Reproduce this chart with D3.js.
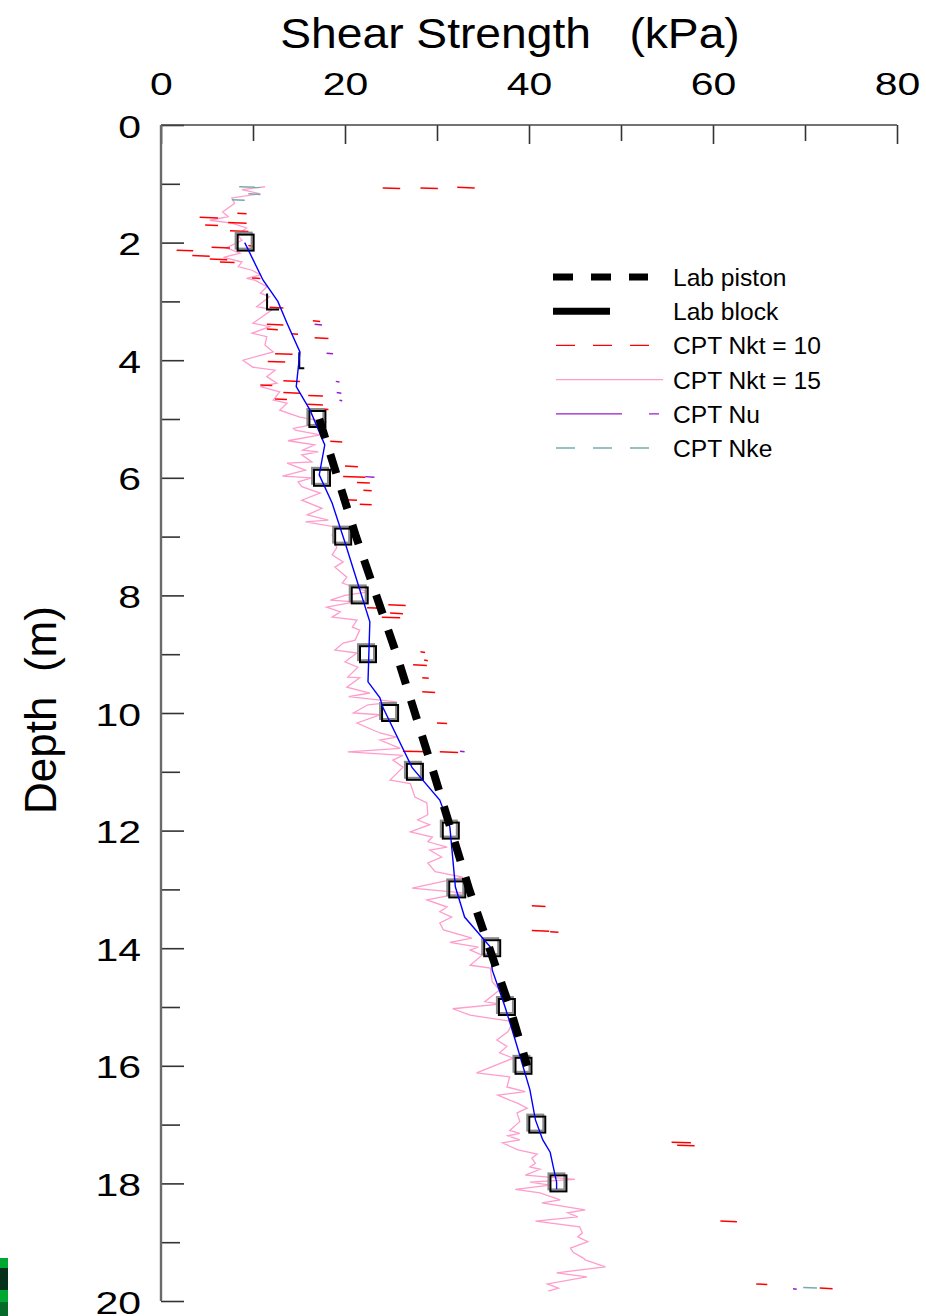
<!DOCTYPE html>
<html>
<head>
<meta charset="utf-8">
<script src="https://cdn.jsdelivr.net/npm/d3@7/dist/d3.min.js"></script>
<style>
  html, body { margin: 0; padding: 0; background: #fff; }
  svg { display: block; }
  text { font-family: "Liberation Sans", Arial, sans-serif; fill: #000; }
</style>
</head>
<body>
<svg id="chart" width="926" height="1316"></svg>
<script>
// ---------------- DATA ----------------
const xMajorTicks = [0, 20, 40, 60, 80];
const xMinorTicks = [10, 30, 50, 70];
const yMajorTicks = [0, 2, 4, 6, 8, 10, 12, 14, 16, 18, 20];
const yMinorTicks = [1, 3, 5, 7, 9, 11, 13, 15, 17, 19];

const legendLabels = ["Lab piston", "Lab block", "CPT Nkt = 10", "CPT Nkt = 15", "CPT Nu", "CPT Nke"];

// Lab piston (thick dashed)
const pistonDepth = [5.0, 7.0, 9.0, 11.0, 13.0, 14.0, 15.0, 16.0];
const pistonValue = [17.2, 21.2, 25.6, 29.6, 33.5, 35.7, 37.9, 39.8];

// Lab squares (open markers) and blue connecting line
const squareDepth = [2, 5, 6, 7, 8, 9, 10, 11, 12, 13, 14, 15, 16, 17, 18];
const squareValue = [9.2, 17.0, 17.5, 19.8, 21.6, 22.5, 24.9, 27.6, 31.5, 32.2, 36.0, 37.6, 39.4, 40.9, 43.2];
const partialSquareDepth = [3, 4];
const partialSquareValue = [12.4, 15.9];

const blueDepth = [2.0, 2.64, 3.0, 3.37, 3.86, 4.45, 4.85, 5.44, 5.95, 6.43, 7.1, 8.45, 9.47, 9.74, 9.9, 10.93, 11.48, 11.94, 12.96, 13.47, 13.98, 14.37, 15.0, 15.56, 16.41, 16.92, 17.26, 17.47, 17.98, 18.1];
const blueValue = [9.1, 11.1, 12.7, 13.7, 15.1, 14.7, 16.2, 17.8, 17.2, 18.6, 20.0, 22.7, 22.5, 23.8, 24.1, 27.3, 30.3, 31.4, 32.0, 33.0, 35.8, 36.0, 37.4, 38.5, 40.1, 40.7, 41.5, 42.3, 43.0, 43.0];

// CPT Nkt = 15 (pink, noisy profile)
const nkt15Depth = [1.05, 1.10, 1.17, 1.24, 1.33, 1.48, 1.56, 1.62, 1.67, 1.75, 1.87, 1.96, 2.09, 2.18, 2.25, 2.33, 2.41, 2.47, 2.55, 2.61, 2.64, 2.75, 2.86, 2.92, 3.09, 3.14, 3.26, 3.37, 3.43, 3.54, 3.60, 3.74, 3.86, 4.00, 4.12, 4.17, 4.28, 4.39, 4.45, 4.54, 4.68, 4.73, 4.85, 4.97, 5.05, 5.16, 5.19, 5.27, 5.37, 5.44, 5.53, 5.56, 5.61, 5.73, 5.75, 5.87, 5.97, 6.00, 6.07, 6.15, 6.26, 6.38, 6.52, 6.63, 6.72, 6.75, 6.84, 6.97, 7.19, 7.31, 7.43, 7.52, 7.69, 7.79, 7.94, 8.00, 8.08, 8.11, 8.20, 8.28, 8.37, 8.42, 8.54, 8.59, 8.76, 8.81, 8.93, 8.98, 9.13, 9.22, 9.39, 9.40, 9.56, 9.66, 9.72, 9.81, 9.86, 10.00, 10.03, 10.17, 10.34, 10.41, 10.46, 10.60, 10.66, 10.72, 10.80, 10.92, 11.14, 11.20, 11.43, 11.53, 11.73, 11.82, 11.90, 12.02, 12.11, 12.19, 12.28, 12.33, 12.45, 12.55, 12.70, 12.79, 12.98, 13.06, 13.18, 13.30, 13.38, 13.47, 13.57, 13.69, 13.83, 13.90, 13.98, 14.03, 14.12, 14.29, 14.34, 14.57, 14.71, 14.91, 14.95, 15.03, 15.14, 15.25, 15.42, 15.56, 15.67, 15.78, 15.87, 16.12, 16.19, 16.36, 16.44, 16.50, 16.64, 16.72, 16.80, 16.95, 17.10, 17.15, 17.19, 17.26, 17.31, 17.43, 17.50, 17.57, 17.66, 17.72, 17.76, 17.86, 17.93, 17.98, 18.03, 18.10, 18.16, 18.28, 18.33, 18.45, 18.50, 18.57, 18.64, 18.74, 18.84, 18.91, 18.99, 19.10, 19.17, 19.27, 19.30, 19.42, 19.52, 19.59, 19.71, 19.78, 19.83];
const nkt15Value = [11.3, 8.8, 10.8, 7.7, 8.0, 6.7, 7.3, 5.3, 7.7, 9.3, 8.3, 8.8, 7.1, 8.6, 6.8, 8.8, 8.4, 9.9, 10.8, 9.3, 10.2, 11.5, 10.8, 11.8, 10.4, 12.1, 11.0, 10.0, 11.8, 9.9, 11.5, 11.3, 12.2, 8.9, 10.0, 12.4, 11.5, 12.6, 10.8, 12.9, 12.2, 13.7, 12.9, 15.1, 18.0, 14.4, 14.6, 17.3, 13.8, 16.7, 15.4, 17.1, 15.3, 16.4, 13.7, 15.7, 13.2, 16.4, 14.9, 15.3, 17.3, 15.3, 17.5, 15.9, 18.2, 15.7, 19.1, 18.6, 19.1, 18.6, 19.8, 18.9, 20.2, 19.7, 22.5, 20.0, 18.4, 21.1, 18.0, 19.5, 18.6, 21.3, 20.8, 21.6, 21.1, 19.8, 18.9, 21.3, 20.0, 21.4, 20.3, 21.6, 20.2, 22.7, 20.4, 25.6, 22.5, 20.9, 23.8, 21.3, 23.8, 25.6, 23.8, 26.0, 20.3, 26.3, 25.2, 26.3, 24.9, 27.1, 27.6, 28.9, 29.0, 27.9, 29.2, 27.1, 29.5, 29.0, 31.1, 29.2, 30.5, 29.0, 29.8, 32.8, 27.3, 32.8, 28.9, 31.1, 30.3, 31.6, 30.3, 30.7, 33.8, 31.4, 34.5, 33.6, 34.9, 33.6, 35.8, 36.0, 36.8, 35.2, 36.8, 31.7, 33.6, 38.3, 37.7, 36.5, 37.6, 36.8, 38.3, 34.3, 37.9, 37.6, 39.6, 36.6, 38.8, 39.8, 38.7, 39.0, 37.9, 39.0, 37.7, 39.0, 37.1, 38.8, 40.9, 40.3, 40.7, 40.1, 41.2, 39.6, 45.0, 40.1, 42.3, 38.5, 41.2, 43.4, 41.4, 46.1, 44.2, 45.3, 40.7, 45.5, 45.8, 45.3, 46.4, 44.5, 44.8, 45.9, 46.1, 48.3, 43.0, 46.3, 42.0, 43.2, 42.1];

// CPT Nkt = 10 (red dashed, visible fragments): depth, value from, value to
const nkt10SegDepth = [1.07, 1.07, 1.06, 1.50, 1.57, 1.66, 1.70, 1.80, 2.05, 2.08, 2.13, 2.22, 2.28, 2.33, 2.60, 3.10, 3.33, 3.39, 3.47, 3.55, 3.62, 3.89, 4.02, 4.35, 4.42, 4.55, 4.60, 4.66, 4.75, 4.83, 5.38, 5.80, 5.98, 6.08, 6.21, 6.37, 6.45, 8.16, 8.21, 8.30, 8.37, 8.96, 9.10, 9.18, 9.40, 9.64, 10.17, 10.65, 10.66, 13.28, 13.70, 13.72, 17.30, 17.35, 18.64, 19.71, 19.78];
const nkt10SegFrom  = [24.1, 28.2, 32.2, 8.3, 4.2, 7.3, 4.8, 7.5, 9.5, 5.5, 1.7, 3.4, 5.3, 6.4, 9.9, 11.8, 16.5, 11.5, 11.5, 14.2, 16.7, 12.4, 11.6, 13.3, 10.8, 13.3, 16.0, 12.4, 15.9, 17.6, 18.4, 20.0, 19.8, 21.3, 22.0, 19.5, 21.6, 24.7, 22.4, 24.9, 24.0, 28.2, 28.6, 27.4, 28.4, 28.4, 30.0, 26.3, 30.3, 40.3, 40.3, 42.3, 55.5, 56.1, 60.8, 64.7, 71.6];
const nkt10SegTo    = [26.0, 30.1, 34.1, 9.3, 6.2, 9.3, 6.2, 9.5, 10.0, 7.5, 3.5, 5.3, 7.2, 8.0, 10.8, 13.3, 17.3, 13.3, 12.7, 14.9, 18.2, 14.3, 13.5, 15.1, 12.1, 15.1, 17.6, 13.7, 17.6, 18.2, 19.7, 21.4, 22.2, 22.7, 22.9, 21.3, 22.9, 26.6, 24.2, 26.3, 26.0, 28.7, 29.0, 28.9, 29.1, 29.8, 31.1, 29.2, 32.3, 41.8, 42.2, 43.2, 57.6, 58.0, 62.6, 65.9, 73.0];

// CPT Nu (purple fragments)
const nuSegDepth = [3.39, 3.88, 4.36, 4.55, 4.68, 5.98, 10.65, 19.79];
const nuSegFrom  = [16.7, 18.0, 19.0, 19.1, 19.4, 22.2, 32.5, 68.7];
const nuSegTo    = [17.5, 18.7, 19.4, 19.6, 19.7, 23.2, 33.0, 69.1];

// CPT Nke (teal fragments)
const nkeSegDepth = [1.05, 1.17, 1.27, 19.77];
const nkeSegFrom  = [8.5, 9.5, 7.7, 69.8];
const nkeSegTo    = [10.8, 10.8, 9.1, 71.3];

// ---------------- DRAW ----------------
const svg = d3.select("#chart");
const x = d3.scaleLinear().domain([0, 80]).range([161, 897]);
const y = d3.scaleLinear().domain([0, 20]).range([125, 1301]);

const COL = { red: "#ff0000", pink: "#ff9ccc", purple: "#9a1ccc", teal: "#78aaaa", blue: "#0000ff" };

// stray artefact at bottom-left edge
const art = svg.append("g");
[[1258, 10, "#00a832"], [1268, 22, "#06301a"], [1290, 12, "#00a832"], [1302, 14, "#066a2a"]].forEach(r => {
  art.append("rect").attr("x", 0).attr("y", r[0]).attr("width", 8).attr("height", r[1]).attr("fill", r[2]);
});

// Title
svg.append("text")
  .attr("transform", "translate(510,48) scale(1.1,1)")
  .attr("text-anchor", "middle")
  .style("font-size", "42px")
  .style("white-space", "pre")
  .text("Shear Strength   (kPa)");

svg.append("text")
  .attr("transform", "translate(56,710) rotate(-90)")
  .attr("text-anchor", "middle")
  .style("font-size", "44px")
  .style("white-space", "pre")
  .text("Depth  (m)");

// Axes
const axTop = svg.append("g").attr("transform", "translate(0,125)")
  .call(d3.axisTop(x).tickValues(xMajorTicks).tickSize(-19).tickPadding(30).tickFormat(d3.format("d")));
const axTopMinor = svg.append("g").attr("transform", "translate(0,125)")
  .call(d3.axisTop(x).tickValues(xMinorTicks).tickSize(-16).tickFormat(""));
const axLeft = svg.append("g").attr("transform", "translate(161,0)")
  .call(d3.axisLeft(y).tickValues(yMajorTicks).tickSize(-23).tickPadding(20).tickFormat(d3.format("d")));
const axLeftMinor = svg.append("g").attr("transform", "translate(161,0)")
  .call(d3.axisLeft(y).tickValues(yMinorTicks).tickSize(-19).tickFormat(""));

[axTop, axTopMinor, axLeft, axLeftMinor].forEach(g => {
  g.selectAll(".domain").remove();
  g.selectAll(".tick line").attr("stroke", "#333").attr("stroke-width", 1.6);
});
axTop.selectAll(".tick text")
  .style("font-size", "32px").style("font-family", "'Liberation Sans', Arial, sans-serif")
  .attr("fill", "#000")
  .attr("transform", "scale(1.28,1)");
axLeft.selectAll(".tick text")
  .style("font-size", "32px").style("font-family", "'Liberation Sans', Arial, sans-serif")
  .attr("fill", "#000")
  .attr("x", -20 / 1.28)
  .attr("dy", "0.38em")
  .attr("transform", "scale(1.28,1)");

// axis lines
svg.append("line").attr("x1", x(0)).attr("x2", x(80)).attr("y1", y(0)).attr("y2", y(0))
  .attr("stroke", "#444").attr("stroke-width", 1.6);
svg.append("line").attr("x1", x(0)).attr("x2", x(0)).attr("y1", y(0)).attr("y2", y(20))
  .attr("stroke", "#6a6a6a").attr("stroke-width", 2.4);

const plot = svg.append("g");

// CPT Nkt = 15 pink line
const lineGen = d3.line().x(d => x(d[0])).y(d => y(d[1]));
plot.append("path")
  .datum(nkt15Depth.map((d, i) => [nkt15Value[i], d]))
  .attr("d", lineGen).attr("fill", "none")
  .attr("stroke", COL.pink).attr("stroke-width", 1.3).attr("stroke-linejoin", "miter");

// fragment segments
function drawSegs(depths, from, to, color, w) {
  plot.append("g").selectAll("line")
    .data(depths.map((d, i) => ({ d, a: from[i], b: to[i] })))
    .join("line")
    .attr("x1", s => x(s.a)).attr("x2", s => x(s.b))
    .attr("y1", s => y(s.d)).attr("y2", s => y(s.d) + 0.6)
    .attr("stroke", color).attr("stroke-width", w);
}
drawSegs(nkt10SegDepth, nkt10SegFrom, nkt10SegTo, COL.red, 1.5);
drawSegs(nuSegDepth, nuSegFrom, nuSegTo, COL.purple, 1.5);
drawSegs(nkeSegDepth, nkeSegFrom, nkeSegTo, COL.teal, 1.5);

// squares (double: grey offset + black)
const sq = 16;
plot.append("g").selectAll("rect.g")
  .data(squareDepth.map((d, i) => [squareValue[i], d]))
  .join("rect")
  .attr("x", d => x(d[0]) - sq / 2 - 2).attr("y", d => y(d[1]) - sq / 2 - 2)
  .attr("width", sq).attr("height", sq)
  .attr("fill", "none").attr("stroke", "#8a8a8a").attr("stroke-width", 2);
plot.append("g").selectAll("rect.b")
  .data(squareDepth.map((d, i) => [squareValue[i], d]))
  .join("rect")
  .attr("x", d => x(d[0]) - sq / 2).attr("y", d => y(d[1]) - sq / 2)
  .attr("width", sq).attr("height", sq)
  .attr("fill", "none").attr("stroke", "#000").attr("stroke-width", 2);

// partially visible markers (left + bottom edges)
plot.append("g").selectAll("path")
  .data(partialSquareDepth.map((d, i) => [partialSquareValue[i], d, i]))
  .join("path")
  .attr("d", d => {
    const cx = x(d[0]), cy = y(d[1]);
    const w = d[2] === 0 ? 12 : 5;
    return `M${cx - sq / 2},${cy - sq / 2} L${cx - sq / 2},${cy + sq / 2} L${cx - sq / 2 + w},${cy + sq / 2}`;
  })
  .attr("fill", "none").attr("stroke", "#000").attr("stroke-width", 2);

// blue line
plot.append("path")
  .datum(blueDepth.map((d, i) => [blueValue[i], d]))
  .attr("d", lineGen).attr("fill", "none")
  .attr("stroke", COL.blue).attr("stroke-width", 1.4);

// Lab piston thick dashed
plot.append("path")
  .datum(pistonDepth.map((d, i) => [pistonValue[i], d]))
  .attr("d", lineGen).attr("fill", "none")
  .attr("stroke", "#000").attr("stroke-width", 8)
  .attr("stroke-dasharray", "20,17");

// ---------------- LEGEND ----------------
const leg = svg.append("g");
const legY0 = 277, legDy = 34.2;
const legStyles = [
  { color: "#000", w: 7, dash: "20,18", x1: 553, x2: 648 },
  { color: "#000", w: 7, dash: null, x1: 553, x2: 610 },
  { color: COL.red, w: 1.3, dash: "19,18", x1: 556, x2: 650 },
  { color: COL.pink, w: 1.3, dash: null, x1: 556, x2: 663 },
  { color: COL.purple, w: 1.3, dash: "66,27,10,100", x1: 556, x2: 659 },
  { color: COL.teal, w: 1.3, dash: "19,18", x1: 556, x2: 650 }
];
legendLabels.forEach((lab, i) => {
  const yy = legY0 + i * legDy;
  const s = legStyles[i];
  leg.append("line").attr("x1", s.x1).attr("x2", s.x2).attr("y1", yy).attr("y2", yy)
    .attr("stroke", s.color).attr("stroke-width", s.w)
    .attr("stroke-dasharray", s.dash);
  leg.append("text").attr("x", 673).attr("y", yy + 9)
    .style("font-size", "24.6px").text(lab);
});
</script>
</body>
</html>
